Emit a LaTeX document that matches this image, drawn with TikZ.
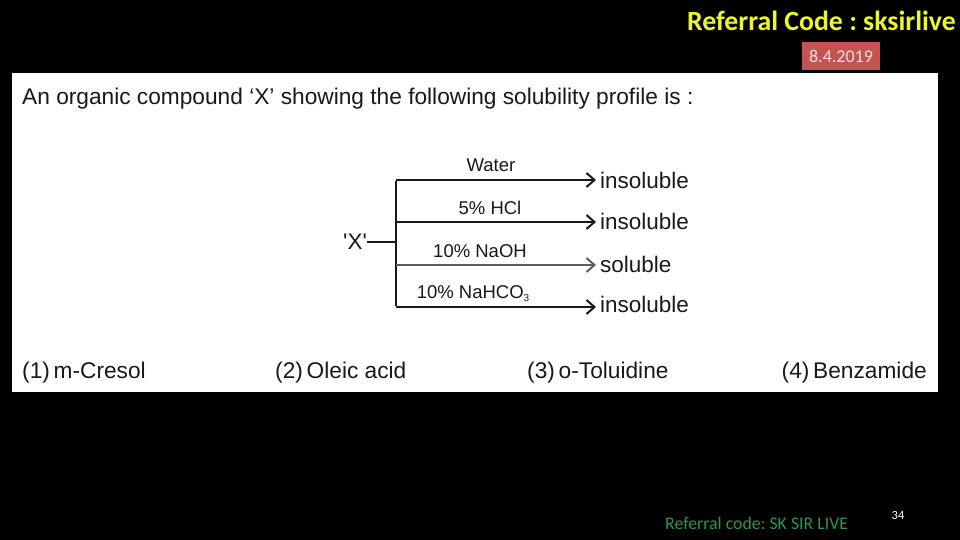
\documentclass[tikz,border=0pt]{standalone}
\usepackage{fontspec}
\setmainfont{Liberation Sans}
\newfontfamily\plainsans{Liberation Sans}
\newfontfamily\calib{Carlito}
\usetikzlibrary{arrows.meta}
\definecolor{refyellow}{RGB}{236,246,40}
\definecolor{datebox}{RGB}{196,84,84}
\definecolor{datetext}{RGB}{255,222,222}
\definecolor{refgreen}{RGB}{46,150,78}
\definecolor{ink}{RGB}{25,25,25}
\tikzset{
  x=1pt, y=-1pt,
  body/.style={font=\fontsize{22.7}{26}\selectfont, text=ink, inner sep=0pt},
  reagent/.style={font=\fontsize{18.5}{22}\selectfont, text=ink, inner sep=0pt},
  result/.style={font=\fontsize{22.5}{26}\selectfont, text=ink, inner sep=0pt, anchor=west},
  tip/.style={-{Straight Barb[length=8pt,width=14pt,line width=2pt]}},
  branch/.style={line width=2pt, draw=ink, tip},
  thinbranch/.style={line width=1.2pt, draw=ink!70, tip},
  trunk/.style={line width=2pt, draw=ink},
}
\begin{document}
\frenchspacing
\begin{tikzpicture}
\useasboundingbox (0,0) rectangle (960,540);
\fill[black] (0,0) rectangle (960,540);

% header
\node[font=\calib\bfseries\fontsize{27.8}{31}\selectfont, text=refyellow, anchor=east, inner sep=0pt] (ref) at (956,21) {Referral Code : sksirlive};
\node[fill=datebox, minimum width=78pt, minimum height=28pt, inner sep=0pt, font=\calib\fontsize{18}{21}\selectfont, text=datetext] (date) at (841,56) {8.4.2019};

% question panel
\fill[white] (12,73) rectangle (938,392);
\node[body, anchor=west] (q) at (22,99) {An organic compound ‘X’ showing the following solubility profile is :};

% solubility tree
\node[body, font=\plainsans\fontsize{22.5}{26}\selectfont] (X) at (355,242) {'X'};
\coordinate (j) at (396,242);
\coordinate (b1) at (396,180);
\coordinate (b2) at (396,222);
\coordinate (b3) at (396,265);
\coordinate (b4) at (396,307);

\node[result] (r1) at (600,180) {insoluble};
\node[result] (r2) at (600,221) {insoluble};
\node[result] (r3) at (600,264) {soluble};
\node[result] (r4) at (600,304) {insoluble};

\draw[trunk] (X.east) -- (j);
\draw[trunk] ([yshift=-1pt]b1) -- ([yshift=1pt]b4);
\draw[branch] (b1) -- ([xshift=-4pt]r1.west |- b1);
\draw[branch] (b2) -- ([xshift=-4pt]r2.west |- b2);
\draw[thinbranch] (b3) -- ([xshift=-4pt]r3.west |- b3);
\draw[branch] (b4) -- ([xshift=-4pt]r4.west |- b4);

\node[reagent] (w) at (491,165) {Water};
\node[reagent] (h) at (490,208) {5\% HCl};
\node[reagent] (n) at (480,251) {10\% NaOH};
\node[reagent] (c) at (473,294) {10\% NaHCO\raisebox{-3pt}{\fontsize{10}{12}\selectfont 3}};

% answer options
\node[body, anchor=west] (o1) at (22,373) {(1)\,m-Cresol};
\node[body, anchor=west] (o2) at (275,373) {(2)\,Oleic acid};
\node[body, anchor=west] (o3) at (527,373) {(3)\,o-Toluidine};
\node[body, anchor=east] (o4) at (927,373) {(4)\,Benzamide};

% footer
\node[font=\calib\fontsize{17.8}{21}\selectfont, text=refgreen, anchor=west, inner sep=0pt] (foot) at (665,523) {Referral code: SK SIR LIVE};
\node[font=\calib\fontsize{12.5}{15}\selectfont, text=white, inner sep=0pt] (pg) at (898,515) {34};
\end{tikzpicture}
\end{document}
